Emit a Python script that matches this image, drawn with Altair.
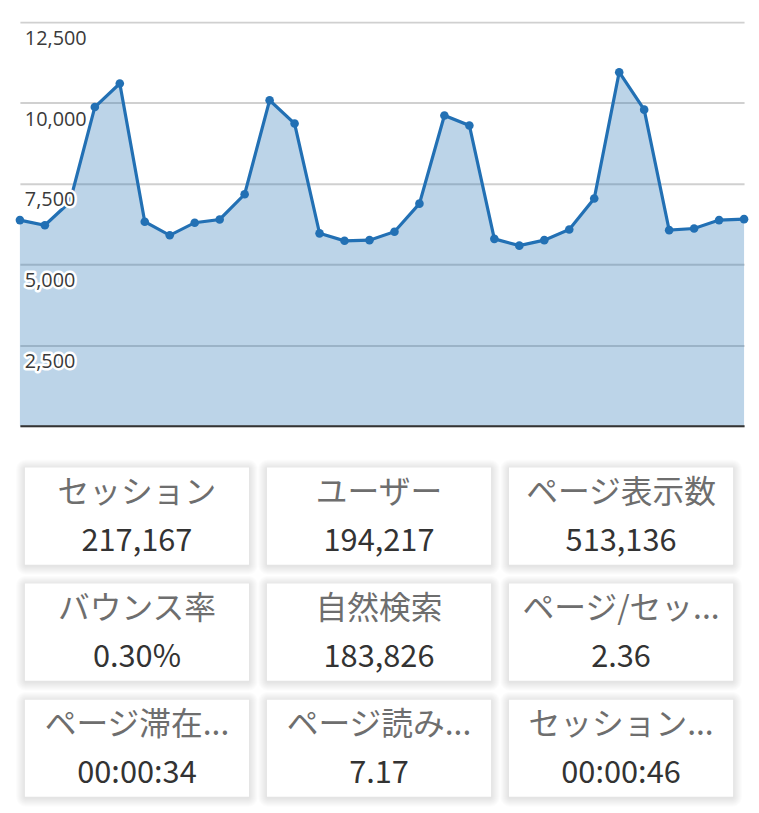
import altair as alt
import pandas as pd

# ---- data ----
day_index = list(range(30))
sessions = [6370, 6210, 6930, 9870, 10600, 6320, 5900, 6290, 6390, 7170,
            10080, 9360, 5960, 5730, 5750, 6010, 6880, 9610, 9300, 5790,
            5580, 5750, 6080, 7040, 10950, 9790, 6060, 6110, 6370, 6400]

tick_values = [2500, 5000, 7500, 10000, 12500]
tick_labels = ["2,500", "5,000", "7,500", "10,000", "12,500"]

card_labels = ["セッション", "ユーザー", "ページ表示数",
               "バウンス率", "自然検索", "ページ/セッション",
               "ページ滞在時間", "ページ読み込み時間", "セッション時間"]
card_values = ["217,167", "194,217", "513,136",
               "0.30%", "183,826", "2.36",
               "00:00:34", "7.17", "00:00:46"]
card_rows = [0, 0, 0, 1, 1, 1, 2, 2, 2]
card_cols = [0, 1, 2, 0, 1, 2, 0, 1, 2]

# ---- style / layout ----
LINE = "#2270b4"
PLOT_W, PLOT_H = 730, 407
COL_STEP, CARD_W = 244, 226
ROW_STEP, CARD_H = 117, 98
CARDS_H = 378
CARD_LEFT, CARD_TOP = 5, 42

df = pd.DataFrame({"day": day_index, "sessions": sessions})
ticks_df = pd.DataFrame({"sessions": tick_values, "label": tick_labels,
                         "day": [0] * len(tick_values)})

x_enc = alt.X("day:Q", scale=alt.Scale(domain=[0, 29], nice=False, zero=False),
              axis=alt.Axis(title=None, labels=False, ticks=False, grid=False,
                            domain=True, domainColor="#333333", domainWidth=2,
                            zindex=1))
y_enc = alt.Y("sessions:Q", scale=alt.Scale(domain=[0, 12500], nice=False),
              axis=alt.Axis(title=None, labels=False, ticks=False, domain=False,
                            grid=True, values=[0] + tick_values,
                            gridColor="#d0d0d0", gridWidth=2))

base = alt.Chart(df).encode(x=x_enc, y=y_enc)
area = base.mark_area(color=LINE, fillOpacity=0.3)
line = base.mark_line(color=LINE, strokeWidth=3.2)
pts = base.mark_circle(color=LINE, size=75, opacity=1)

lab_base = alt.Chart(ticks_df).encode(x="day:Q", y="sessions:Q", text="label:N")
halo = lab_base.mark_text(align="left", baseline="alphabetic", dx=5, dy=23,
                          font="Open Sans", fontSize=20, fill="white",
                          stroke="white", strokeWidth=5, strokeJoin="round")
labs = lab_base.mark_text(align="left", baseline="alphabetic", dx=5, dy=23,
                          font="Open Sans", fontSize=20, fill="#3a3a3a")

top = alt.layer(area, line, pts, halo, labs).properties(width=PLOT_W, height=PLOT_H)

# ---- cards ----
cards_df = pd.DataFrame({"row": card_rows, "col": card_cols,
                         "label": card_labels, "value": card_values})

xs = alt.Scale(domain=[-CARD_LEFT / COL_STEP, (PLOT_W - CARD_LEFT) / COL_STEP], nice=False, zero=False)
ys = alt.Scale(domain=[-CARD_TOP / ROW_STEP, (CARDS_H - CARD_TOP) / ROW_STEP], nice=False,
               zero=False, reverse=True)

cbase = alt.Chart(cards_df).transform_calculate(
    col_end=f"datum.col + {CARD_W / COL_STEP}",
    row_end=f"datum.row + {CARD_H / ROW_STEP}",
    col_mid=f"datum.col + {CARD_W / 2 / COL_STEP}",
)

rect_enc = dict(
    x=alt.X("col:Q", scale=xs, axis=None),
    x2="col_end:Q",
    y=alt.Y("row:Q", scale=ys, axis=None),
    y2="row_end:Q",
)

layers = []
for k in range(1, 10):
    layers.append(cbase.mark_rect(color="black", opacity=0.011, cornerRadius=k + 1,
                                  xOffset=-k, x2Offset=k, yOffset=-k + 1, y2Offset=k + 1)
                  .encode(**rect_enc))
layers.append(cbase.mark_rect(color="white").encode(**rect_enc))

txt_enc = dict(x=alt.X("col_mid:Q", scale=xs, axis=None),
               y=alt.Y("row:Q", scale=ys, axis=None))
layers.append(cbase.mark_text(font="Noto Sans CJK JP", fontSize=32, color="#6e6e6e",
                              baseline="middle", dy=26, limit=202, ellipsis="...")
              .encode(text="label:N", **txt_enc))
layers.append(cbase.mark_text(font="Noto Sans CJK JP", fontSize=31, color="#333333",
                              baseline="middle", dy=75)
              .encode(text="value:N", **txt_enc))

cards = alt.layer(*layers).properties(width=PLOT_W, height=CARDS_H)

chart = alt.vconcat(top, cards, spacing=0, bounds="flush").properties(
    padding={"left": 5, "top": 11, "right": 0, "bottom": 0},
    background="white",
).configure_view(stroke=None)

chart.save("out.html", embed_options={"renderer": "svg", "actions": False})
